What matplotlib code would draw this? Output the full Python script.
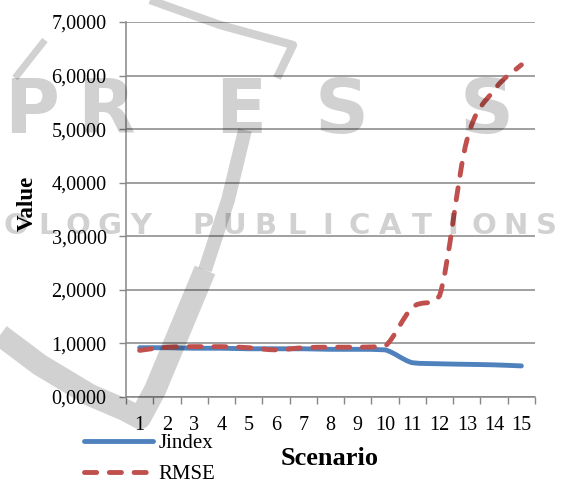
import numpy as np
import matplotlib
matplotlib.use('Agg')
import matplotlib.pyplot as plt
from matplotlib.path import Path
from matplotlib.patches import PathPatch
from matplotlib.lines import Line2D

# data
scenarios = list(range(1, 16))
jindex = [0.92, 0.92, 0.91, 0.91, 0.90, 0.90, 0.90, 0.89, 0.89, 0.88, 0.64, 0.62, 0.61, 0.60, 0.58]
rmse = [0.87, 0.93, 0.94, 0.94, 0.92, 0.88, 0.92, 0.93, 0.93, 0.95, 1.67, 1.89, 4.79, 5.73, 6.20]
ytick_vals = [0, 1, 2, 3, 4, 5, 6, 7]
ytick_labels = ['0,0000', '1,0000', '2,0000', '3,0000', '4,0000', '5,0000', '6,0000', '7,0000']

plt.rcParams['font.family'] = ['Liberation Serif', 'DejaVu Serif']
blue = '#4F81BD'
red = '#C0504D'
grey = '#868686'
W, H = 561, 486


def smooth_path(xs, ys):
    # smoothed line: cubic bezier, catmull-rom control points kept inside each segment
    p = np.column_stack([xs, ys]).astype(float)
    n = len(p)
    verts = [p[0]]
    codes = [Path.MOVETO]
    for i in range(n - 1):
        p0 = p[i - 1] if i > 0 else p[i]
        p3 = p[i + 2] if i + 2 < n else p[i + 1]
        c1 = p[i] + (p[i + 1] - p0) / 6
        c2 = p[i + 1] - (p3 - p[i]) / 6
        lo, hi = sorted([p[i][1], p[i + 1][1]])
        c1[1] = min(max(c1[1], lo), hi)
        c2[1] = min(max(c2[1], lo), hi)
        verts += [c1, c2, p[i + 1]]
        codes += [Path.CURVE4] * 3
    return Path(verts, codes)


fig = plt.figure(figsize=(W / 100, H / 100), dpi=100)
ax = fig.add_axes([126 / W, 1 - 397 / H, (535 - 126) / W, (397 - 22) / H])

ax.add_patch(PathPatch(smooth_path(scenarios, jindex), fill=False, edgecolor=blue,
                       lw=3.5, capstyle='round', joinstyle='round', zorder=3))
ax.add_patch(PathPatch(smooth_path(scenarios, rmse), fill=False, edgecolor=red,
                       lw=3.5, linestyle=(0, (2.5, 2.6)), capstyle='round', zorder=4))

ax.set_xlim(0.5, 15.5)
ax.set_ylim(0, 7)
ax.set_yticks(ytick_vals)
ax.set_yticklabels(ytick_labels)
ax.set_xticks(scenarios)
ax.set_xticklabels([str(s) for s in scenarios])
ax.set_xticks(np.arange(0.5, 16, 1), minor=True)
ax.tick_params(axis='x', which='major', length=0, pad=14, labelsize=14.5)
ax.tick_params(axis='x', which='minor', length=5, width=1, color=grey, direction='out')
ax.tick_params(axis='y', length=5, width=1, color=grey, pad=9, labelsize=14.5)
ax.grid(axis='y', color=grey, lw=1.1)
ax.set_axisbelow(True)
for s in ['top', 'right']:
    ax.spines[s].set_visible(False)
for s in ['left', 'bottom']:
    ax.spines[s].set_color(grey)
    ax.spines[s].set_linewidth(1.1)

fig.text(27 / W, 1 - 203 / H, 'Value', rotation=90, ha='center', va='center',
         fontsize=16.5, fontweight='bold')
fig.text(330 / W, 1 - 458 / H, 'Scenario', ha='center', va='center',
         fontsize=19, fontweight='bold')

handles = [Line2D([], [], color=blue, lw=3.5, solid_capstyle='round'),
           Line2D([], [], color=red, lw=3.5, linestyle=(0, (2.5, 2.6)), dash_capstyle='round')]
fig.legend(handles, ['Jindex', 'RMSE'], loc='center left',
           bbox_to_anchor=(74 / W, 1 - 459 / H), frameon=False, fontsize=15,
           handlelength=3.3, handletextpad=0.25, labelspacing=0.55, borderpad=0)

# publisher watermark over the chart
wm = dict(color='black', alpha=0.18, fontweight='bold', family='DejaVu Sans',
          ha='center', va='center', zorder=10)
for ch, cx in zip('PRESS', [32, 106, 241, 342, 487]):
    fig.text(cx / W, 1 - 112 / H, ch, fontsize=54, **wm)
for i, ch in enumerate('OLOGY PUBLICATIONS'):
    if ch != ' ':
        fig.text((16 + 31.2 * i) / W, 1 - 226 / H, ch, fontsize=21, **wm)


def fig_line(px, py, lw):
    fig.add_artist(Line2D([x / W for x in px], [1 - y / H for y in py], color='black',
                          alpha=0.18, lw=lw, solid_capstyle='butt', zorder=10))


fig_line([0, 40, 90, 125, 140, 155, 180, 205], [335, 365, 395, 410, 418, 390, 330, 270], 16)
fig_line([205, 228, 245], [270, 200, 130], 10)
fig_line([150, 220, 293, 277], [0, 25, 45, 78], 6)
fig_line([15, 45], [78, 40], 5)

fig.savefig('out.png', dpi=100)
